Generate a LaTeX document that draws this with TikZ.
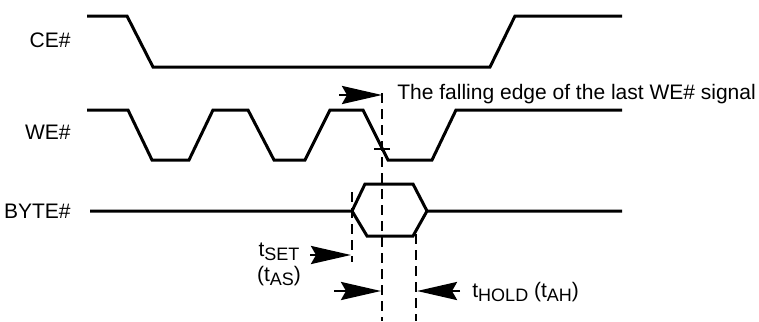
\documentclass[tikz,border=0pt]{standalone}
\usepackage{fontspec}
\setmainfont{Liberation Sans}
\usetikzlibrary{arrows.meta}

\newcommand{\tsub}[1]{\raisebox{-0.35ex}{\fontsize{9}{10}\selectfont #1}}

\tikzset{
  signal/.style={line width=1.5pt, line join=miter},
  guide/.style={line width=1.3pt, dash pattern=on 5pt off 3pt},
  timing/.style={line width=1.4pt, -{Stealth[length=20pt,width=9pt,inset=2.5pt]}},
  sigtext/.style={font=\fontsize{10.5}{12}\selectfont, inner sep=0pt}
}

\begin{document}
\begin{tikzpicture}[x=0.5pt, y=-0.5pt]
    \useasboundingbox (0,0) rectangle (759,321);

    % Signal names
    \node[sigtext, anchor=east] (CEname) at (71,40) {CE\#};
    \node[sigtext, anchor=east] (WEname) at (71,132) {WE\#};
    \node[sigtext, anchor=east] (BYTEname) at (71,211) {BYTE\#};

    % CE#
    \draw[signal] (87,16) -- (127,16) -- (153,67) -- (490,67) -- (515,16) -- (622,16);

    % WE#
    \draw[signal] (87,110) -- (128,110) -- (152,160) -- (189,160) -- (213,110)
    -- (248,110) -- (274,160) -- (305,160) -- (330,110)
    -- (363,110) -- (388,160) -- (432,160) -- (456,110) -- (622,110);

    % BYTE#
    \coordinate (Bl) at (352,211);
    \coordinate (Br) at (427,211);
    \draw[signal] (90,211) -- (Bl) -- (365,184) -- (413,184) -- (Br) -- (622,211);
    \draw[signal] (Bl) -- (367,236) -- (413,236) -- (Br);

    % Guide lines
    \coordinate (Ftop) at (382,93);
    \coordinate (Fbot) at (382,321);
    \coordinate (Stop) at (352,192);
    \coordinate (Sbot) at (352,262);
    \coordinate (Htop) at (416,234);
    \coordinate (Hbot) at (416,321);
    \draw[guide] (Ftop) -- (Fbot);
    \draw[guide] (Stop) -- (Sbot);
    \draw[guide] (Htop) -- (Hbot);
    \draw[line width=1.2pt] (374,149) -- (390,149);

    % Falling edge marker
    \coordinate (Fa) at (339,95);
    \coordinate (Fb) at (382,95);
    \draw[timing] (Fa) -- (Fb);
    \node[sigtext, anchor=west] (Fname) at (397,94) {The falling edge of the last WE\# signal};

    % Setup time
    \coordinate (Sa) at (310,255);
    \coordinate (Sb) at (351,255);
    \draw[timing] (Sa) -- (Sb);
    \node[sigtext] (Sname) at (279,252) {t\tsub{SET}};
    \node[sigtext] (Sname2) at (279,276) {(t\tsub{AS})};

    % Hold time
    \coordinate (Ha) at (334,291);
    \coordinate (Hb) at (381,291);
    \coordinate (Hc) at (460,291);
    \coordinate (Hd) at (417,291);
    \draw[timing] (Ha) -- (Hb);
    \draw[timing] (Hc) -- (Hd);
    \node[sigtext, anchor=west] (Hname) at (472,292) {t\tsub{HOLD} (t\tsub{AH})};

\end{tikzpicture}
\end{document}
